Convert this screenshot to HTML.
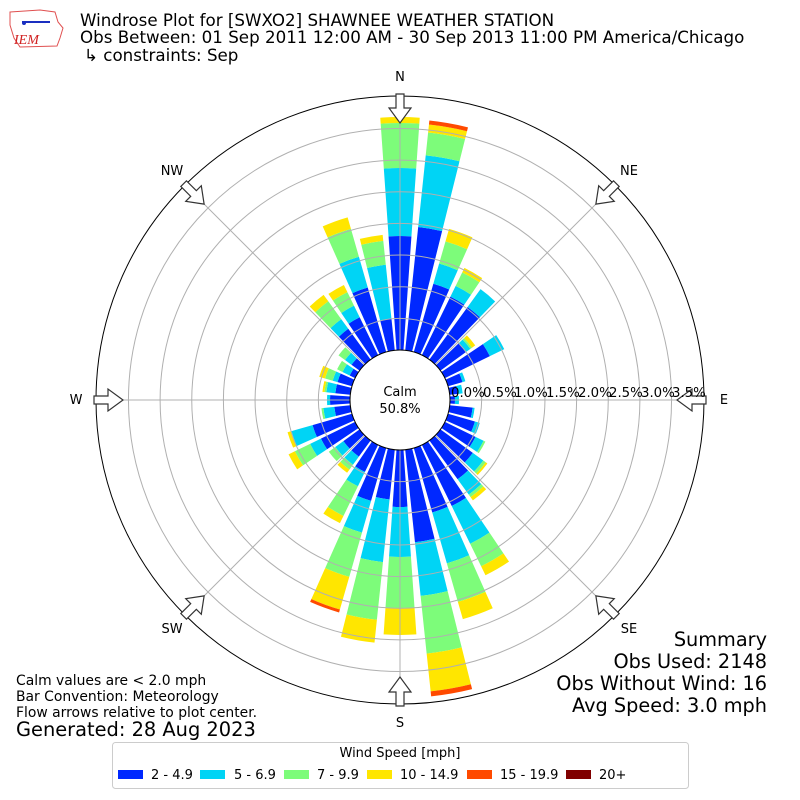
<!DOCTYPE html>
<html><head><meta charset="utf-8"><style>
body{margin:0;background:#fff;}
svg{display:block;font-family:"DejaVu Sans","Liberation Sans",sans-serif;}
</style></head><body>
<svg id="s" width="800" height="800" viewBox="0 0 800 800" xmlns="http://www.w3.org/2000/svg">
<rect width="800" height="800" fill="#fff"/>
<g id="bars"></g>
<g id="grid" fill="none" stroke="#b0b0b0" stroke-width="1"></g>
<circle cx="400" cy="400" r="50" fill="#fff" stroke="#000" stroke-width="1"/>
<circle cx="400" cy="400" r="304" fill="none" stroke="#000" stroke-width="1"/>
<g id="arrows" fill="#fff" stroke="#333" stroke-width="1.2"></g>
<g font-size="13.3" fill="#000">
<text x="451" y="397">0.0%</text><text x="483" y="397">0.5%</text><text x="514" y="397">1.0%</text><text x="546" y="397">1.5%</text><text x="578" y="397">2.0%</text><text x="609" y="397">2.5%</text><text x="641" y="397">3.0%</text><text x="672" y="397">3.5%</text>
</g>
<g font-size="13" fill="#000" text-anchor="middle">
<text x="400" y="81">N</text><text x="629" y="175">NE</text><text x="724" y="404">E</text><text x="629" y="633">SE</text><text x="400" y="727">S</text><text x="172" y="633">SW</text><text x="76" y="404">W</text><text x="172" y="175">NW</text>
<text x="400" y="396">Calm</text><text x="400" y="413">50.8%</text>
</g>
<g font-size="16.7" fill="#000">
<text x="80" y="26">Windrose Plot for [SWXO2] SHAWNEE WEATHER STATION</text>
<text x="80" y="43">Obs Between: 01 Sep 2011 12:00 AM - 30 Sep 2013 11:00 PM America/Chicago</text>
<text x="84" y="61">↳ constraints: Sep</text>
</g>
<g font-size="19.3" fill="#000" text-anchor="end">
<text x="767" y="646">Summary</text><text x="767" y="668">Obs Used: 2148</text><text x="767" y="690">Obs Without Wind: 16</text><text x="767" y="712">Avg Speed: 3.0 mph</text>
</g>
<g font-size="13.9" fill="#000">
<text x="16" y="685">Calm values are &lt; 2.0 mph</text><text x="16" y="701">Bar Convention: Meteorology</text><text x="16" y="717">Flow arrows relative to plot center.</text>
<text x="16" y="736" font-size="19.4">Generated: 28 Aug 2023</text>
</g>
<rect x="112.5" y="742.5" width="576" height="46" rx="3" fill="#fff" stroke="#ccc"/>
<text x="400" y="757" font-size="13" text-anchor="middle">Wind Speed [mph]</text>
<g font-size="13">
<rect x="118" y="770" width="25" height="9" fill="#0028ff"/><text x="151" y="779">2 - 4.9</text>
<rect x="200" y="770" width="25" height="9" fill="#00d4f5"/><text x="234" y="779">5 - 6.9</text>
<rect x="284" y="770" width="25" height="9" fill="#7dfc7a"/><text x="317" y="779">7 - 9.9</text>
<rect x="367" y="770" width="25" height="9" fill="#ffe600"/><text x="400" y="779">10 - 14.9</text>
<rect x="467" y="770" width="25" height="9" fill="#ff4a00"/><text x="500" y="779">15 - 19.9</text>
<rect x="566" y="770" width="25" height="9" fill="#800000"/><text x="599" y="779">20+</text>
</g>
<g>
<path d="M10 12 L40 10 L55 12 L58 22 L63 28 L60 38 L57 46 L20 47 L14 38 L10 25 Z" fill="#fff" stroke="#e05050" stroke-width="1"/>
<line x1="22" y1="22" x2="50" y2="22" stroke="#1a2fc0" stroke-width="2"/>
<circle cx="24" cy="23" r="2" fill="#1a2fc0"/>
<text x="14" y="44" font-family="Liberation Serif,serif" font-style="italic" font-size="14" fill="#d02020">IEM</text>
</g>
</svg>
<script>
var C=400,NS="http://www.w3.org/2000/svg";
var cols=["#0028ff","#00d4f5","#7dfc7a","#ffe600","#ff4a00","#800000"];
var d={0:[164,232,277,283],10:[174,246,269,277,281],20:[121,142,165,178],30:[115,127,142,147],40:[115,137],50:[82,87,89,93],60:[100,116],70:[65,68],80:[58,63],90:[55,59],100:[73,75],110:[78,83],120:[84,93,95],130:[90,103,106,108],140:[98,117,120,124],150:[118,160,185,195],160:[117,170,210,228],170:[143,197,255,293,298],180:[107,157,208,235],190:[100,163,221,244],200:[105,138,184,218,221],210:[80,96,129,137],220:[70,80,86,90],230:[70,80,88],240:[88,100,117,124],250:[91,113,113,117],260:[66,77,79],270:[70,73],280:[65,74,76,78],290:[65,70,78,84],300:[56,64,70],310:[60,68,76],320:[88,100,122,130],330:[92,105,120,128],340:[117,149,178,190],350:[82,136,160,166]};
function P(r,t){t=t*Math.PI/180;return [C+r*Math.sin(t),C-r*Math.cos(t)];}
function f(p){return p[0].toFixed(2)+" "+p[1].toFixed(2);}
var bars=document.getElementById("bars");
for(var k in d){var a=+k,rs=d[k],r0=50;
 for(var i=0;i<rs.length;i++){var r1=rs[i];if(r1<=r0){continue;}
  var a0=a-4,a1=a+4;
  var s="M"+f(P(r0,a0))+" L"+f(P(r1,a0))+" A"+r1+" "+r1+" 0 0 1 "+f(P(r1,a1))+" L"+f(P(r0,a1))+" A"+r0+" "+r0+" 0 0 0 "+f(P(r0,a0))+"Z";
  var p=document.createElementNS(NS,"path");p.setAttribute("d",s);p.setAttribute("fill",cols[i]);bars.appendChild(p);r0=r1;}
}
var g=document.getElementById("grid");
for(var k=1;k<8;k++){var c=document.createElementNS(NS,"circle");c.setAttribute("cx",C);c.setAttribute("cy",C);c.setAttribute("r",50+31.65*k);g.appendChild(c);}
for(var a=0;a<360;a+=45){var l=document.createElementNS(NS,"path");l.setAttribute("d","M"+f(P(50,a))+" L"+f(P(304,a)));g.appendChild(l);}
var ar=document.getElementById("arrows");
function Q(r,w,t){t=t*Math.PI/180;return [C+r*Math.sin(t)+w*Math.cos(t),C-r*Math.cos(t)+w*Math.sin(t)];}
for(var a=0;a<360;a+=45){
 var pts=[[306,-4],[292,-4],[292,-11],[277,0],[292,11],[292,4],[306,4]];
 var s="M"+pts.map(function(q){return f(Q(q[0],q[1],a));}).join(" L")+"Z";
 var p=document.createElementNS(NS,"path");p.setAttribute("d",s);ar.appendChild(p);}
</script>
</body></html>
